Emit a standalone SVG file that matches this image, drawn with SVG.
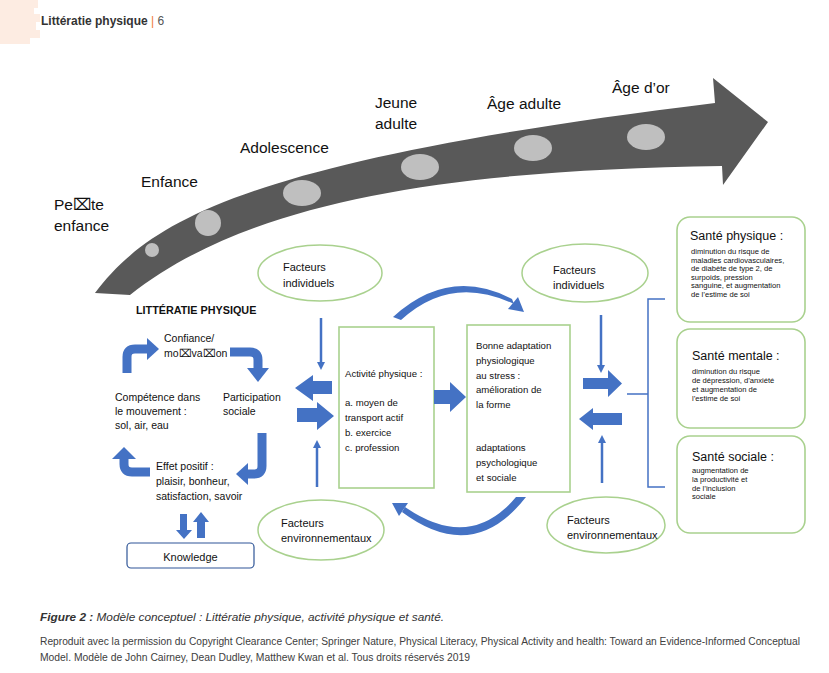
<svg xmlns="http://www.w3.org/2000/svg" width="829" height="673" viewBox="0 0 829 673">
<style>
text{font-family:"Liberation Sans",Arial,sans-serif;fill:#111}
.stage{font-size:15.5px}
.cyc{font-size:10.5px}
.box{font-size:9.6px}
.fac{font-size:11px}
.st{font-size:12.5px}
.sm{font-size:7.6px}
.ell{fill:#fff;stroke:#a9d18e;stroke-width:1.5}
.rect{fill:#fff;stroke:#a9d18e;stroke-width:1.6}
.blue{fill:#4472c4}
.bl{stroke:#4472c4;fill:none}
.cap{fill:#404040}
</style>
<g id="header">
<path d="M0,0 H38 V8 H34 V14 H40 V22 H36 V30 H40 V38 H30 V44 H0 Z" fill="#fdece2"/>
<text x="41" y="25" style="font-size:12px;font-weight:bold;fill:#333">Littératie physique <tspan fill="#f07c3a" font-weight="normal">|</tspan><tspan font-weight="normal" fill="#555"> 6</tspan></text>
</g>
<g id="timeline">
<path d="M95,293 C150,220 250,160 715,103 L713,78 L768,122 L723,185 L722,166 C450,170 250,200 130,295 Z" fill="#595959"/>
<ellipse cx="152" cy="250" rx="7" ry="7" fill="#bfbfbf"/>
<ellipse cx="208" cy="223" rx="13" ry="13" fill="#bfbfbf"/>
<ellipse cx="302" cy="193" rx="19" ry="13" fill="#bfbfbf"/>
<ellipse cx="420" cy="167" rx="19" ry="13" fill="#bfbfbf"/>
<ellipse cx="533" cy="148" rx="19" ry="13" fill="#bfbfbf"/>
<ellipse cx="646" cy="137" rx="19" ry="13" fill="#bfbfbf"/>
<text class="stage" x="54" y="210">Pe⌧te</text>
<text class="stage" x="54" y="231">enfance</text>
<text class="stage" x="141" y="187">Enfance</text>
<text class="stage" x="240" y="153">Adolescence</text>
<text class="stage" x="375" y="108">Jeune</text>
<text class="stage" x="375" y="129">adulte</text>
<text class="stage" x="487" y="109">Âge adulte</text>
<text class="stage" x="612" y="93">Âge d’or</text>
</g>
<g id="litteratie">
<text x="136" y="314" style="font-size:10.8px;font-weight:bold">LITTÉRATIE PHYSIQUE</text>
<text class="cyc" x="164" y="342">Confiance/</text>
<text class="cyc" x="164" y="357">mo⌧va⌧on</text>
<text class="cyc" x="223" y="401">Participation</text>
<text class="cyc" x="223" y="415">sociale</text>
<text class="cyc" x="115" y="401">Compétence dans</text>
<text class="cyc" x="115" y="415">le mouvement :</text>
<text class="cyc" x="115" y="429">sol, air, eau</text>
<text class="cyc" x="156" y="470">Effet positif :</text>
<text class="cyc" x="156" y="485">plaisir, bonheur,</text>
<text class="cyc" x="156" y="500">satisfaction, savoir</text>
</g>
<g id="knowledge">
<rect x="127" y="543" width="127" height="25" rx="4" fill="#fff" stroke="#2f5597" stroke-width="1.2"/>
<text x="190.5" y="561" text-anchor="middle" style="font-size:11px">Knowledge</text>
</g>
<g id="fi-left"><ellipse class="ell" cx="320" cy="273" rx="62" ry="28"/><text class="fac" x="283" y="271">Facteurs</text><text class="fac" x="283" y="287">individuels</text></g>
<g id="fi-right"><ellipse class="ell" cx="585" cy="273" rx="63" ry="29"/><text class="fac" x="553" y="274">Facteurs</text><text class="fac" x="553" y="289">individuels</text></g>
<g id="fe-left"><ellipse class="ell" cx="321" cy="530" rx="63" ry="30"/><text class="fac" x="281" y="527">Facteurs</text><text class="fac" x="281" y="542">environnementaux</text></g>
<g id="fe-right"><ellipse class="ell" cx="606" cy="525" rx="59" ry="28"/><text class="fac" x="567" y="524">Facteurs</text><text class="fac" x="567" y="539">environnementaux</text></g>
<g id="activite">
<rect class="rect" x="339" y="327" width="95" height="161"/>
<text class="box" x="345" y="377">Activité physique :</text>
<text class="box" x="345" y="406">a. moyen de</text>
<text class="box" x="345" y="421">transport actif</text>
<text class="box" x="345" y="436">b. exercice</text>
<text class="box" x="345" y="451">c. profession</text>
</g>
<g id="adaptation">
<rect class="rect" x="467" y="325" width="103" height="167"/>
<text class="box" x="476" y="349">Bonne adaptation</text>
<text class="box" x="476" y="364">physiologique</text>
<text class="box" x="476" y="379">au stress :</text>
<text class="box" x="476" y="393">amélioration de</text>
<text class="box" x="476" y="408">la forme</text>
<text class="box" x="476" y="451">adaptations</text>
<text class="box" x="476" y="466">psychologique</text>
<text class="box" x="476" y="481">et sociale</text>
</g>
<g id="sante-physique">
<rect class="rect" x="677" y="217" width="128" height="105" rx="13"/>
<text class="st" x="690" y="240">Santé physique :</text>
<text class="sm" x="691" y="254">diminution du risque de</text>
<text class="sm" x="691" y="262.6">maladies cardiovasculaires,</text>
<text class="sm" x="691" y="271.2">de diabète de type 2, de</text>
<text class="sm" x="691" y="279.8">surpoids, pression</text>
<text class="sm" x="691" y="288.4">sanguine, et augmentation</text>
<text class="sm" x="691" y="297">de l’estime de soi</text>
</g>
<g id="sante-mentale">
<rect class="rect" x="677" y="329" width="128" height="99" rx="13"/>
<text class="st" x="692" y="360">Santé mentale :</text>
<text class="sm" x="692" y="374">diminution du risque</text>
<text class="sm" x="692" y="383">de dépression, d’anxiété</text>
<text class="sm" x="692" y="392">et augmentation de</text>
<text class="sm" x="692" y="401">l’estime de soi</text>
</g>
<g id="sante-sociale">
<rect class="rect" x="677" y="436" width="128" height="97" rx="13"/>
<text class="st" x="692" y="461">Santé sociale :</text>
<text class="sm" x="692" y="473">augmentation de</text>
<text class="sm" x="692" y="481.8">la productivité et</text>
<text class="sm" x="692" y="490.6">de l’inclusion</text>
<text class="sm" x="692" y="499.4">sociale</text>
</g>
<g id="connectors">
<path class="bl" stroke-width="9" d="M127,373 L127,357 Q127,349 135,349 L148,349"/>
<polygon class="blue" points="147,338 159,349 147,360"/>
<path class="bl" stroke-width="9" d="M230,352 L250,352 Q258,352 258,360 L258,369"/>
<polygon class="blue" points="247,368 258,382 269,368"/>
<path class="bl" stroke-width="9" d="M262,433 L262,466 Q262,474 254,474 L247,474"/>
<polygon class="blue" points="248,463 236,474 248,485"/>
<path class="bl" stroke-width="9" d="M150,472 L132,472 Q124,472 124,464 L124,458"/>
<polygon class="blue" points="112,459 124,447 136,459"/>
<polygon class="blue" points="180,514 187,514 187,530 192,530 184,539 176,530 180,530"/>
<polygon class="blue" points="197,538 205,538 205,522 209,522 201,512 193,522 197,522"/>
<polygon class="blue" points="295,388 313,375 313,381 332,381 332,394 313,394 313,401"/>
<polygon class="blue" points="297,408 317,408 317,402 334,416 317,430 317,422 297,422"/>
<polygon class="blue" points="434,390 450,390 450,382 466,397 450,412 450,404 434,404"/>
<polygon class="blue" points="583,378 608,378 608,370 622,383.5 608,397 608,389 583,389"/>
<polygon class="blue" points="579,419 593,408 593,413 622,413 622,425 593,425 593,430"/>
<line class="bl" stroke-width="2.5" x1="321" y1="318" x2="321" y2="363"/>
<polygon class="blue" points="317,362 325,362 321,370"/>
<line class="bl" stroke-width="2.5" x1="317" y1="487" x2="317" y2="447"/>
<polygon class="blue" points="313,448 321,448 317,440"/>
<line class="bl" stroke-width="2.5" x1="601" y1="315" x2="601" y2="366"/>
<polygon class="blue" points="597,365 605,365 601,373"/>
<line class="bl" stroke-width="2.5" x1="602" y1="483" x2="602" y2="442"/>
<polygon class="blue" points="598,443 606,443 602,435"/>
<path class="blue" d="M393,317 Q449,266 512,299 L514,304 Q451,274 401,320 Z"/>
<polygon class="blue" points="524,312 508,309 518,297"/>
<path class="blue" d="M526,497 Q473,565 402,512 L405,507 Q470,552 516,497 Z"/>
<polygon class="blue" points="392,503 408,503 399,516"/>
<path class="bl" stroke-width="1.5" d="M627,394 H648 M665,299 H648 V487 H665"/>
</g>
<g id="caption">
<text class="cap" x="40" y="621" textLength="404" lengthAdjust="spacingAndGlyphs" style="font-size:11.5px;font-style:italic;fill:#333"><tspan font-weight="bold">Figure 2 :</tspan> Modèle conceptuel : Littératie physique, activité physique et santé.</text>
<text class="cap" x="40" y="645" textLength="760" lengthAdjust="spacingAndGlyphs" style="font-size:10px">Reproduit avec la permission du Copyright Clearance Center; Springer Nature, Physical Literacy, Physical Activity and health: Toward an Evidence-Informed Conceptual</text>
<text class="cap" x="40" y="661" textLength="430" lengthAdjust="spacingAndGlyphs" style="font-size:10px">Model. Modèle de John Cairney, Dean Dudley, Matthew Kwan et al. Tous droits réservés 2019</text>
</g>
</svg>
